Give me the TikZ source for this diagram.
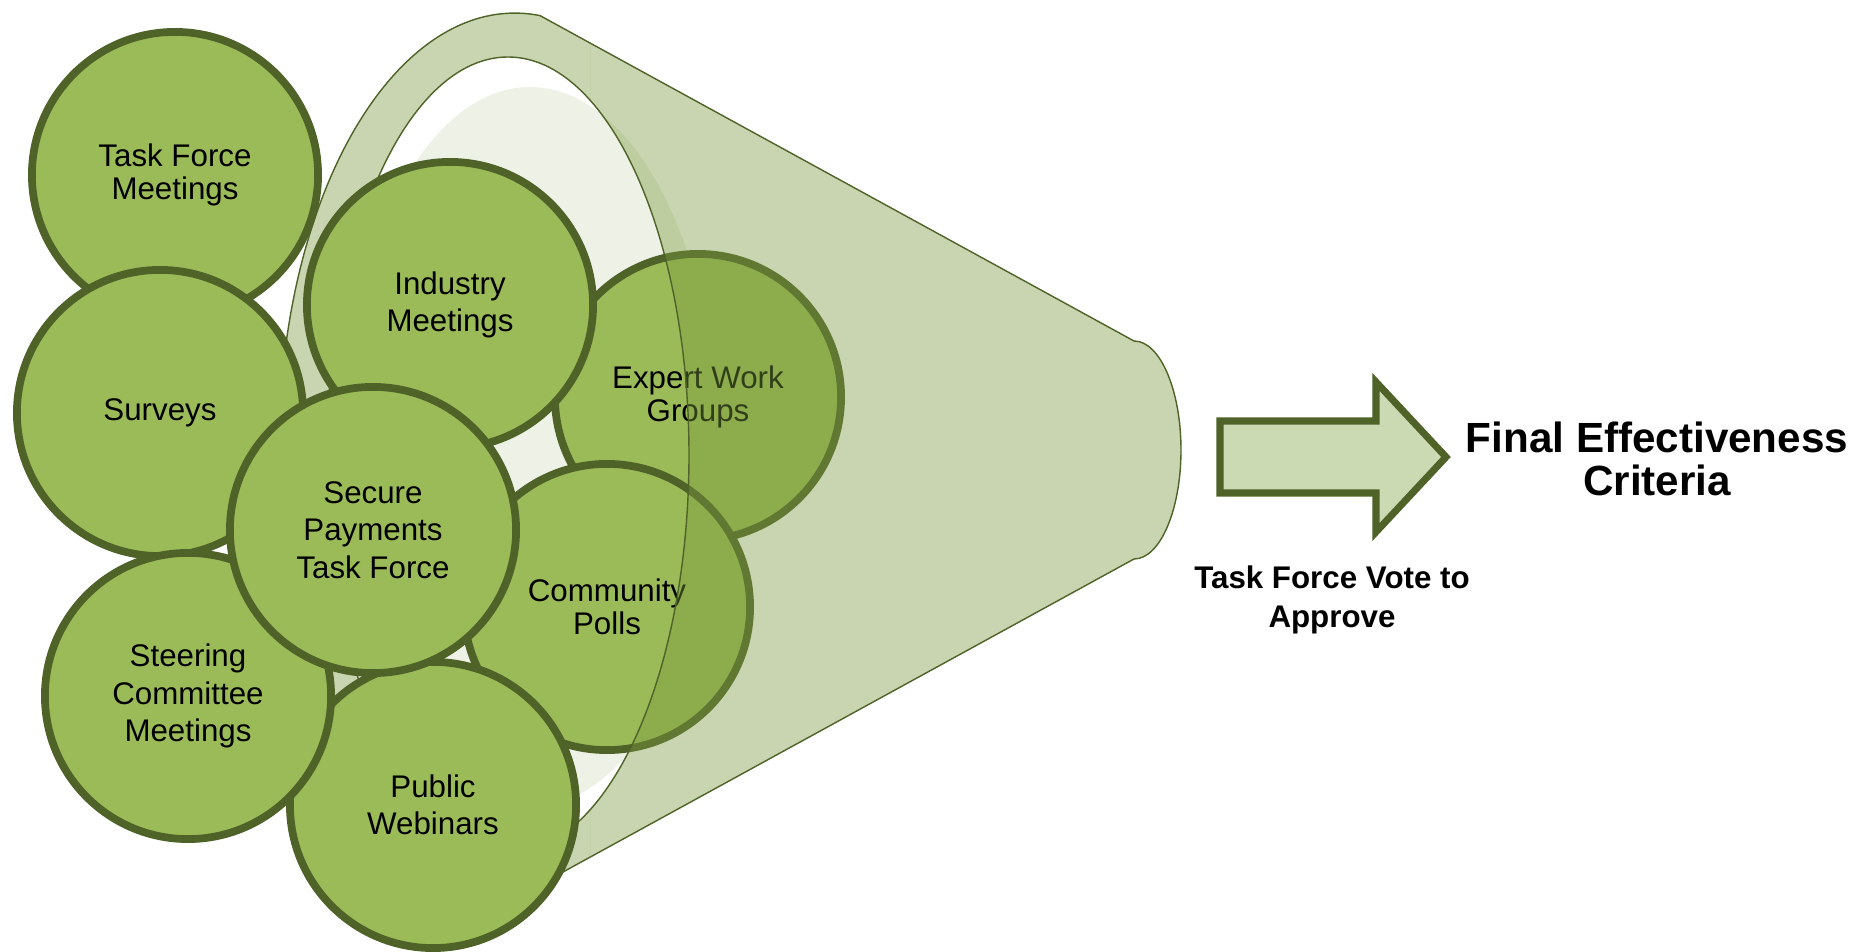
\documentclass[tikz,border=0pt]{standalone}
\usepackage{fontspec}
\setmainfont{Liberation Sans}

\definecolor{bubblefill}{RGB}{155,187,89}
\definecolor{bubbleline}{RGB}{79,98,40}
\definecolor{wallgreen}{RGB}{121,153,62}
\definecolor{insidegreen}{RGB}{238,242,230}
\definecolor{arrowgreen}{RGB}{204,218,180}

% funnel wall: cone outline with the mouth cut out
\newcommand{\funnelwall}{(1134,341) -- (540,15.6)
    arc[start angle=-83.9, end angle=-276.1, x radius=236, y radius=437]
    -- (1134,559) arc[start angle=90, end angle=-90, x radius=47, y radius=109]
    -- cycle (508,455) ellipse[x radius=181, y radius=398]}

\begin{document}
\begin{tikzpicture}
        [
            x = 0.01cm, y = -0.01cm,
            bubble/.style = {circle, draw=bubbleline, fill=bubblefill, line width=2.2pt,
                minimum size=2.86cm, inner sep=0pt, align=center,
                font=\fontsize{8.9}{10.6}\selectfont},
            tight/.style = {font=\fontsize{8.9}{9.4}\selectfont},
            wall/.style = {fill=wallgreen, fill opacity=0.41, even odd rule},
            rim/.style = {draw=bubbleline, line width=0.4pt},
            heading/.style = {align=center, font=\fontsize{12}{12.2}\selectfont\bfseries},
            note/.style = {align=center, font=\fontsize{8.9}{11}\selectfont\bfseries}
        ]
        \useasboundingbox (0,0) rectangle (1856,952);

        % inside of the funnel
        \fill[insidegreen] (530,447) ellipse[x radius=187, y radius=360];

        % wall behind the bubbles
        \begin{scope}
            \clip (0,0) rectangle (590,952);
            \fill[wall] \funnelwall;
            \draw[rim] \funnelwall;
        \end{scope}

        \node [bubble, tight] at (175,175) (tfm) {Task Force\\Meetings};
        \node [bubble] at (160,413) (surveys) {Surveys};
        \node [bubble, tight] at (698,397) (experts) {Expert Work\\Groups};
        \node [bubble] at (450,305) (industry) {Industry\\Meetings};
        \node [bubble, tight] at (607,607) (polls) {Community\\Polls};
        \node [bubble] at (433,805) (webinars) {Public\\Webinars};
        \node [bubble] at (188,696) (steering) {Steering\\Committee\\Meetings};
        \node [bubble] at (373,530) (taskforce) {Secure\\Payments\\Task Force};

        % wall in front of the bubbles
        \begin{scope}
            \clip (590,0) rectangle (1856,952);
            \fill[wall] \funnelwall;
            \draw[rim] \funnelwall;
        \end{scope}

        \draw[draw=bubbleline, fill=arrowgreen, line width=2pt]
            (1220,421) -- (1376,421) -- (1376,382) -- (1446,457)
            -- (1376,532) -- (1376,493) -- (1220,493) -- cycle;

        \node [heading] at (1657,459) (criteria) {Final Effectiveness\\Criteria};
        \node [note] at (1332,600) (vote) {Task Force Vote to\\Approve};
    \end{tikzpicture}
\end{document}
